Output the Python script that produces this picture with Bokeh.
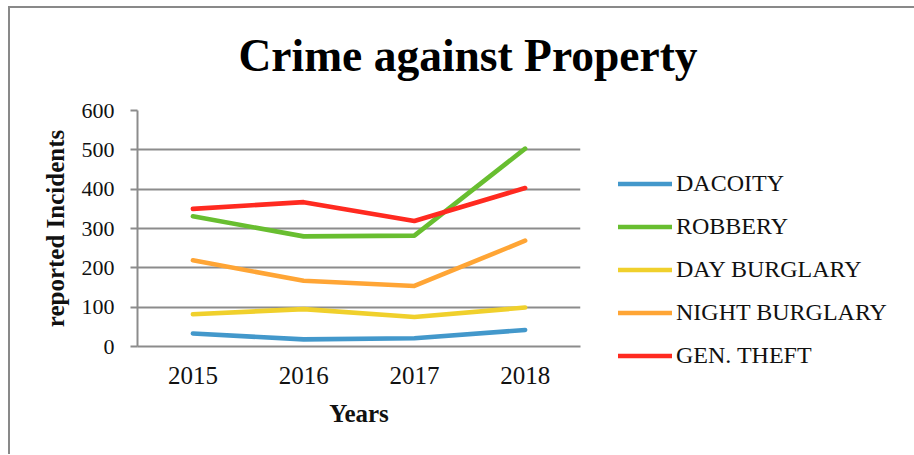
from bokeh.plotting import figure
from bokeh.models import Legend, LegendItem, Title, FactorRange, Range1d, FixedTicker
from bokeh.embed import file_html
from bokeh.resources import INLINE

# ---- data ----
years = ["2015", "2016", "2017", "2018"]
series_names = ["DACOITY", "ROBBERY", "DAY BURGLARY", "NIGHT BURGLARY", "GEN. THEFT"]
dacoity = [33, 18, 21, 42]
robbery = [331, 280, 282, 503]
day_burglary = [82, 95, 75, 99]
night_burglary = [219, 167, 154, 269]
gen_theft = [350, 367, 319, 403]
y_ticks = [0, 100, 200, 300, 400, 500, 600]
title_text = "Crime against Property"
x_title = "Years"
y_title = "reported Incidents"

series_values = [dacoity, robbery, day_burglary, night_burglary, gen_theft]
colors = ["#4398CB", "#68BE30", "#F0D02C", "#FFA535", "#FF2A20"]

FONT = "Liberation Serif"
GRAY = "#8c8c8c"

p = figure(frame_width=443, frame_height=236,
           x_range=FactorRange(*years, range_padding=0),
           y_range=Range1d(0, 600),
           output_backend="svg", toolbar_location=None,
           min_border_left=137, min_border_right=0,
           min_border_top=110, min_border_bottom=108)
# chart-area border (left and top edges) drawn as the host element's background
p.styles = {
    "background-color": "white",
    "background-image": "linear-gradient(#898989, #898989), linear-gradient(#898989, #898989)",
    "background-size": "2px 100%, 100% 2px",
    "background-position": "8px 6px, 8px 6px",
    "background-repeat": "no-repeat",
}
p.outline_line_color = None
p.background_fill_color = "white"
p.border_fill_color = None

renderers = []
for name, vals, c in zip(series_names, series_values, colors):
    r = p.line(x=years, y=vals, line_color=c, line_width=4.6,
               line_cap="round", line_join="round")
    renderers.append((name, r))

# grid
p.xgrid.grid_line_color = None
p.ygrid.grid_line_color = GRAY
p.ygrid.grid_line_width = 2
p.yaxis.ticker = FixedTicker(ticks=y_ticks)

# axes
for ax in (p.xaxis, p.yaxis):
    ax.axis_line_color = GRAY
    ax.axis_line_width = 2
    ax.minor_tick_line_color = None
    ax.major_label_text_font = FONT
    ax.major_label_text_color = "#111111"
    ax.axis_label_text_font = FONT
    ax.axis_label_text_font_style = "bold"
    ax.axis_label_text_color = "#111111"

p.xaxis.major_tick_line_color = None
p.xaxis.major_tick_out = 0
p.xaxis.major_tick_in = 0
p.xaxis.major_label_text_font_size = "25px"
p.xaxis.major_label_standoff = 20
p.xaxis.axis_label = x_title
p.xaxis.axis_label_text_font_size = "25px"
p.xaxis.axis_label_standoff = 13

p.yaxis.major_tick_line_color = GRAY
p.yaxis.major_tick_line_width = 2
p.yaxis.major_tick_out = 7
p.yaxis.major_tick_in = 0
p.yaxis.major_label_text_font_size = "22px"
p.yaxis.major_label_standoff = 16
p.yaxis.axis_label = y_title
p.yaxis.axis_label_text_font_size = "25px"
p.yaxis.axis_label_standoff = 10

# legend
legend = Legend(items=[LegendItem(label=n, renderers=[r]) for n, r in renderers],
                location=(38, -31), orientation="vertical",
                glyph_width=54, glyph_height=43, label_height=43,
                label_standoff=4, spacing=0, padding=0, margin=0,
                label_text_font=FONT, label_text_font_size="24px",
                label_text_color="#111111",
                border_line_color=None, background_fill_alpha=0)
p.add_layout(legend, "right")

# title
p.title = Title(text=title_text, align="left", offset=101, standoff=56,
                vertical_align="top",
                text_font=FONT, text_font_size="45.5px", text_font_style="bold",
                text_color="#000000")

open("out.html", "w").write(file_html(p, INLINE))
